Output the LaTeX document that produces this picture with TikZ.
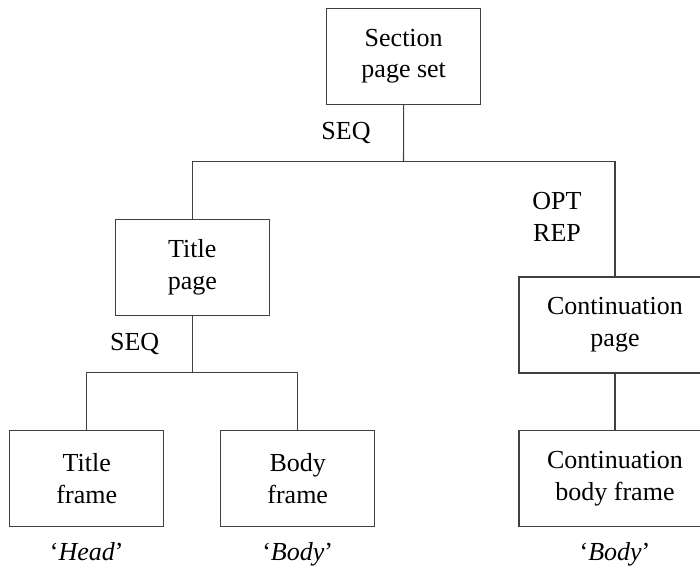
\documentclass[tikz,border=0pt]{standalone}
\usepackage{fontspec}
\setmainfont{Liberation Serif}
\begin{document}
\begin{tikzpicture}[x=0.75pt,y=-0.75pt,
  box/.style={draw=black!75, line width=0.8pt, minimum width=115.5pt, minimum height=72pt, align=center, inner sep=0pt, font=\fontsize{19.5}{23.8}\selectfont},
  widebox/.style={box, minimum width=144pt},
  conn/.style={draw=black!75, line width=0.8pt},
  lbl/.style={anchor=base, inner sep=0pt, font=\fontsize{19.5}{23.8}\selectfont}]
\useasboundingbox (0,0) rectangle (700,565);
\clip (0,0) rectangle (700,565);
\node[box] (sec) at (403.7,56.3) {Section\\page set};
\node[box] (tp) at (192.3,267.2) {Title\\page};
\node[widebox] (cp) at (615,325) {Continuation\\page};
\node[box] (tf) at (86.8,478.7) {Title\\frame};
\node[box] (bf) at (297.7,478.7) {Body\\frame};
\node[widebox] (cbf) at (615,478.5) {Continuation\\body frame};
\coordinate (j1) at (403.5,161.7);
\coordinate (j2) at (192.3,372.7);
\draw[conn] (sec.south) -- (j1);
\draw[conn] (tp.north) |- (j1);
\draw[conn] (j1) -| (cp.north);
\draw[conn] (tp.south) -- (j2);
\draw[conn] (tf.north) |- (j2);
\draw[conn] (j2) -| (bf.north);
\draw[conn] (cp.south) -- (cbf.north);
\node[lbl] (seq1) at (346,139.5) {SEQ};
\node[lbl] (opt) at (557,209) {OPT};
\node[lbl] (rep) at (557,241.5) {REP};
\node[lbl] (seq2) at (134.7,350) {SEQ};
\node[lbl] (head) at (86.8,560) {‘\textit{Head}’};
\node[lbl] (body1) at (297.7,560) {‘\textit{Body}’};
\node[lbl] (body2) at (615,560) {‘\textit{Body}’};
\end{tikzpicture}
\end{document}
